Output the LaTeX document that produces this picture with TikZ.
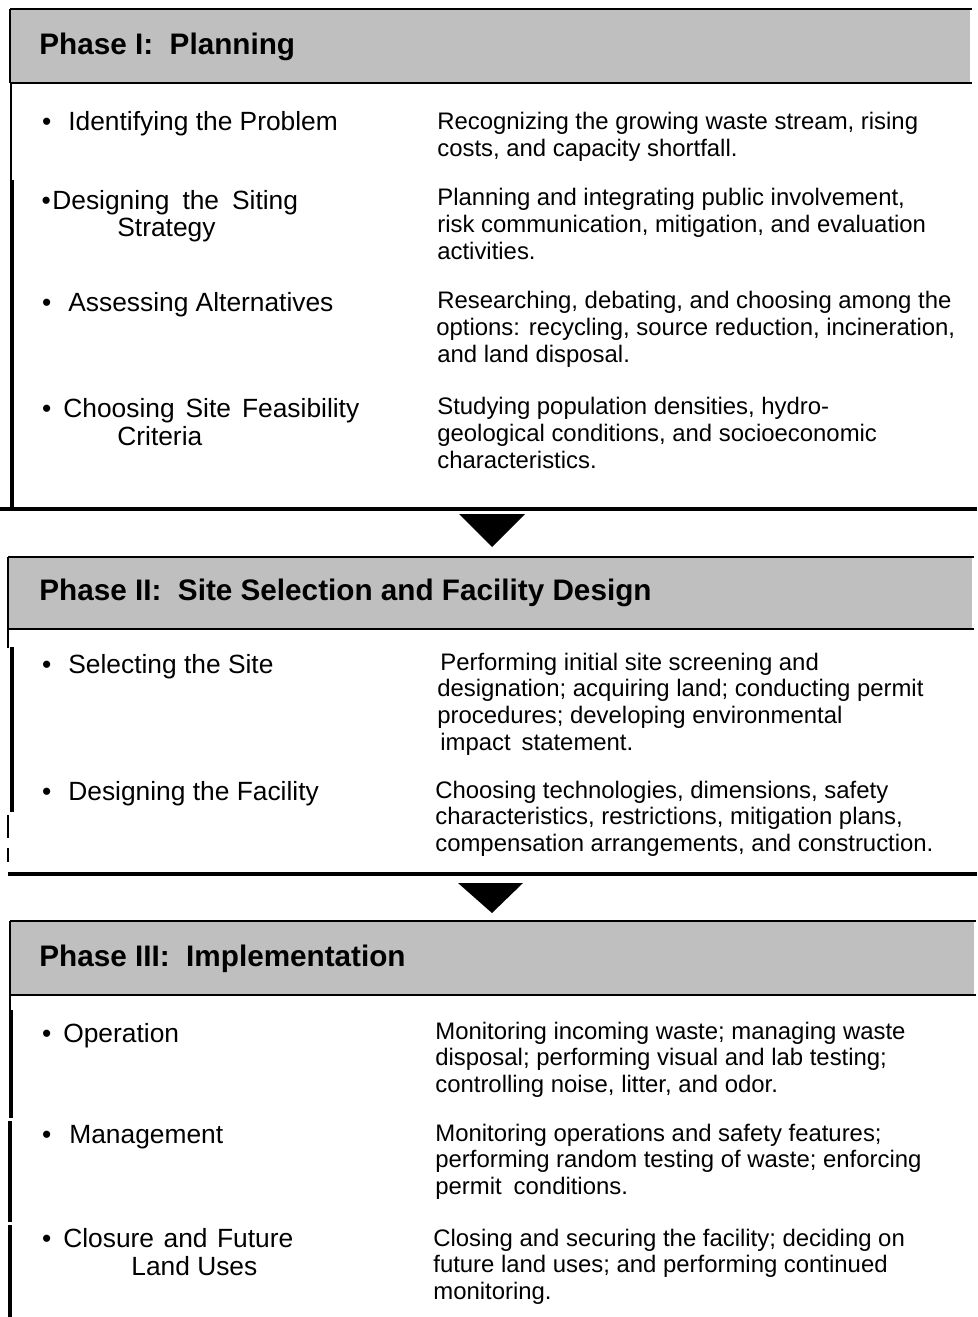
\documentclass[tikz,border=0pt]{standalone}
\usepackage{fontspec}
\setmainfont{Liberation Sans}
\newdimen\pxu \pxu=0.02cm
\newcommand\bul[1]{\llap{\textbullet\hspace{#1\pxu}}}
\newcommand\ws[1]{\hspace{#1\pxu}}
\begin{document}
\begin{tikzpicture}[x=0.02cm,y=-0.02cm,
  hdrband/.style={fill=black!25, draw=none},
  hdr/.style={anchor=base west, inner sep=0pt, font=\fontsize{16.9}{20}\selectfont\bfseries},
  lbl/.style={anchor=base west, inner sep=0pt, font=\fontsize{15}{18}\selectfont},
  desc/.style={anchor=base west, inner sep=0pt, font=\fontsize{13.6}{16}\selectfont},
  sepline/.style={line width=2pt},
  hline/.style={line width=1.4pt},
  thinb/.style={line width=0.8pt},
  thickb/.style={line width=2pt},
  tri/.style={fill=black, draw=none}]
\useasboundingbox (0,0) rectangle (977,1317);

% ---------- Phase I ----------
\fill[hdrband] (10,9) rectangle (970,83);
\draw[hline] (10,9) -- (972,9);
\draw[hline] (10,83) -- (972,83);
\draw[thinb] (10,9) -- (10,83);
\draw[thinb] (11,83) -- (11,181);
\draw[thickb] (12,180) -- (12,508);
\node[hdr] (h1) at (39,55) {Phase I:\hspace{0.556em}Planning};

\node[lbl] (l11) at (68,131) {\bul{17}Identifying the Problem};
\node[desc] (d11a) at (437,130) {Recognizing the growing waste stream, rising};
\node[desc] (d11b) at (437,156.7) {costs, and capacity shortfall.};

\node[lbl] (l12) at (52,210) {\bul{1.5}Designing\ws{13}the\ws{13}Siting};
\node[lbl] (l12b) at (117,236.5) {Strategy};
\node[desc] (d12a) at (437,206) {Planning and integrating public involvement,};
\node[desc] (d12b) at (437,232.7) {risk communication, mitigation, and evaluation};
\node[desc] (d12c) at (437,259.4) {activities.};

\node[lbl] (l13) at (68,312) {\bul{17}Assessing Alternatives};
\node[desc] (d13a) at (437,309) {Researching, debating, and choosing among the};
\node[desc] (d13b) at (436,335.7) {options: recycling, source reduction, incineration,};
\node[desc] (d13c) at (437,362.4) {and land disposal.};

\node[lbl] (l14) at (63,418) {\bul{12}Choosing\ws{11}Site\ws{11}Feasibility};
\node[lbl] (l14b) at (117,445) {Criteria};
\node[desc] (d14a) at (437,415) {Studying population densities, hydro-};
\node[desc] (d14b) at (437,441.7) {geological conditions, and socioeconomic};
\node[desc] (d14c) at (437,468.4) {characteristics.};

\draw[sepline] (0,509) -- (977,509);
\fill[tri] (459,514) -- (525,514) -- (492,547) -- cycle;

% ---------- Phase II ----------
\fill[hdrband] (8,557) rectangle (972,629);
\draw[hline] (8,557) -- (974,557);
\draw[hline] (8,629) -- (974,629);
\draw[thinb] (8,557) -- (8,648);
\draw[thickb] (12,647) -- (12,812);
\draw[thinb] (8,815) -- (8,838);
\draw[thinb] (8,848) -- (8,862);
\node[hdr] (h2) at (39,600) {Phase II:\hspace{0.556em}Site Selection and Facility Design};

\node[lbl] (l21) at (68,673) {\bul{17}Selecting the Site};
\node[desc] (d21a) at (440,670) {Performing initial site screening and};
\node[desc] (d21b) at (437,696.7) {designation; acquiring land; conducting permit};
\node[desc] (d21c) at (437,723.4) {procedures; developing environmental};
\node[desc] (d21d) at (440,750) {impact\ws{11}statement.};

\node[lbl] (l22) at (68,800) {\bul{17}Designing the Facility};
\node[desc] (d22a) at (435,798) {Choosing technologies, dimensions, safety};
\node[desc] (d22b) at (435,824.7) {characteristics, restrictions, mitigation plans,};
\node[desc] (d22c) at (435,851.4) {compensation arrangements, and construction.};

\draw[sepline] (8,874) -- (977,874);
\fill[tri] (458,883) -- (523,883) -- (492,913) -- cycle;

% ---------- Phase III ----------
\fill[hdrband] (10,921) rectangle (974,995);
\draw[hline] (10,921) -- (976,921);
\draw[hline] (10,995) -- (976,995);
\draw[thinb] (10,921) -- (10,1010);
\draw[thickb] (11,1010) -- (11,1118);
\draw[thickb] (10,1121) -- (10,1222);
\draw[thickb] (10,1225) -- (10,1317);
\node[hdr] (h3) at (39,966) {Phase III:\hspace{0.556em}Implementation};

\node[lbl] (l31) at (63,1042) {\bul{12}Operation};
\node[desc] (d31a) at (435,1039) {Monitoring incoming waste; managing waste};
\node[desc] (d31b) at (435,1065.7) {disposal; performing visual and lab testing;};
\node[desc] (d31c) at (435,1092.4) {controlling noise, litter, and odor.};

\node[lbl] (l32) at (69,1143) {\bul{18}Management};
\node[desc] (d32a) at (435,1141) {Monitoring operations and safety features;};
\node[desc] (d32b) at (435,1167.7) {performing random testing of waste; enforcing};
\node[desc] (d32c) at (435,1194.4) {permit\ws{12}conditions.};

\node[lbl] (l33) at (63,1247) {\bul{12}Closure\ws{9.5}and\ws{9.5}Future};
\node[lbl] (l33b) at (131,1275) {Land Uses};
\node[desc] (d33a) at (433,1246) {Closing and securing the facility; deciding on};
\node[desc] (d33b) at (433,1272.7) {future land uses; and performing continued};
\node[desc] (d33c) at (433,1299.4) {monitoring.};
\end{tikzpicture}
\end{document}
